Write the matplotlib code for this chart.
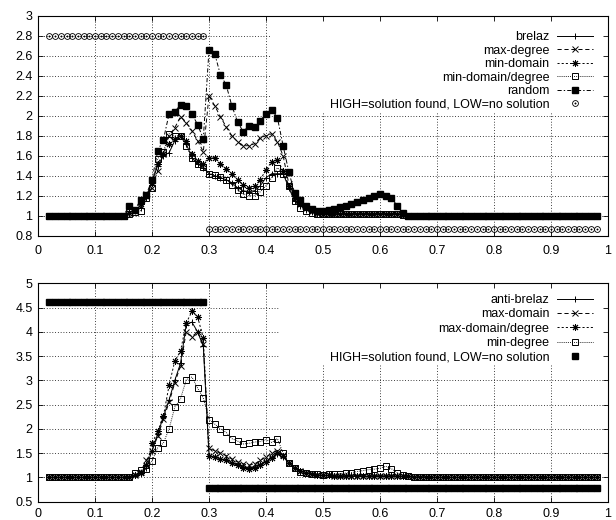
import numpy as np
import matplotlib
matplotlib.use('Agg')
import matplotlib.pyplot as plt
from matplotlib.patches import Rectangle

plt.rcParams['font.family'] = ['Liberation Sans', 'DejaVu Sans']
plt.rcParams['font.size'] = 9
plt.rcParams['lines.scale_dashes'] = False

# x samples 0.02 .. 0.98 step 0.01
x = np.round(np.arange(0.02, 0.985, 0.01), 2)

### top panel
brelaz = [
    1.0, 1.0, 1.0, 1.0, 1.0, 1.0, 1.0, 1.0,
    1.0, 1.0, 1.0, 1.0, 1.0, 1.0, 1.03, 1.05, 1.08, 1.18,
    1.35, 1.50, 1.60, 1.63, 1.75, 1.80, 1.72, 1.58, 1.52, 1.48,
    1.42, 1.40, 1.38, 1.36, 1.33, 1.28, 1.25, 1.24, 1.25, 1.30,
    1.38, 1.42, 1.42, 1.42, 1.28, 1.15, 1.10, 1.06, 1.04, 1.03,
    1.02, 1.02, 1.02, 1.02, 1.02, 1.02, 1.02, 1.02, 1.02, 1.02,
    1.02, 1.02, 1.02, 1.02, 1.01, 1.0, 1.0, 1.0, 1.0, 1.0,
    1.0, 1.0, 1.0, 1.0, 1.0, 1.0, 1.0, 1.0, 1.0, 1.0,
    1.0, 1.0, 1.0, 1.0, 1.0, 1.0, 1.0, 1.0, 1.0, 1.0,
    1.0, 1.0, 1.0, 1.0, 1.0, 1.0, 1.0, 1.0, 1.0]
max_degree = [
    1.0, 1.0, 1.0, 1.0, 1.0, 1.0, 1.0, 1.0,
    1.0, 1.0, 1.0, 1.0, 1.0, 1.0, 1.03, 1.05, 1.10, 1.22,
    1.28, 1.45, 1.62, 1.80, 1.88, 1.99, 1.93, 1.85, 1.75, 1.64,
    2.20, 2.10, 1.99, 1.89, 1.80, 1.74, 1.70, 1.70, 1.72, 1.78,
    1.80, 1.82, 1.74, 1.60, 1.32, 1.20, 1.12, 1.08, 1.05, 1.03,
    1.02, 1.02, 1.02, 1.02, 1.02, 1.02, 1.02, 1.02, 1.02, 1.02,
    1.02, 1.02, 1.02, 1.02, 1.01, 1.0, 1.0, 1.0, 1.0, 1.0,
    1.0, 1.0, 1.0, 1.0, 1.0, 1.0, 1.0, 1.0, 1.0, 1.0,
    1.0, 1.0, 1.0, 1.0, 1.0, 1.0, 1.0, 1.0, 1.0, 1.0,
    1.0, 1.0, 1.0, 1.0, 1.0, 1.0, 1.0, 1.0, 1.0]
min_domain = [
    1.0, 1.0, 1.0, 1.0, 1.0, 1.0, 1.0, 1.0,
    1.0, 1.0, 1.0, 1.0, 1.0, 1.0, 1.03, 1.06, 1.12, 1.20,
    1.33, 1.52, 1.62, 1.72, 1.77, 1.80, 1.75, 1.62, 1.55, 1.52,
    1.58, 1.58, 1.52, 1.47, 1.42, 1.36, 1.31, 1.28, 1.30, 1.36,
    1.46, 1.54, 1.56, 1.45, 1.30, 1.18, 1.12, 1.08, 1.05, 1.03,
    1.02, 1.02, 1.02, 1.02, 1.02, 1.02, 1.02, 1.02, 1.02, 1.02,
    1.02, 1.02, 1.02, 1.02, 1.01, 1.0, 1.0, 1.0, 1.0, 1.0,
    1.0, 1.0, 1.0, 1.0, 1.0, 1.0, 1.0, 1.0, 1.0, 1.0,
    1.0, 1.0, 1.0, 1.0, 1.0, 1.0, 1.0, 1.0, 1.0, 1.0,
    1.0, 1.0, 1.0, 1.0, 1.0, 1.0, 1.0, 1.0, 1.0]
min_domain_degree = [
    1.0, 1.0, 1.0, 1.0, 1.0, 1.0, 1.0, 1.0,
    1.0, 1.0, 1.0, 1.0, 1.0, 1.0, 1.02, 1.04, 1.05, 1.18,
    1.28, 1.57, 1.64, 1.82, 1.80, 1.80, 1.70, 1.58, 1.52, 1.49,
    1.42, 1.41, 1.39, 1.36, 1.31, 1.26, 1.22, 1.20, 1.20, 1.24,
    1.30, 1.38, 1.48, 1.42, 1.30, 1.15, 1.08, 1.05, 1.03, 1.02,
    1.02, 1.02, 1.02, 1.02, 1.02, 1.02, 1.02, 1.02, 1.02, 1.02,
    1.02, 1.02, 1.02, 1.02, 1.01, 1.0, 1.0, 1.0, 1.0, 1.0,
    1.0, 1.0, 1.0, 1.0, 1.0, 1.0, 1.0, 1.0, 1.0, 1.0,
    1.0, 1.0, 1.0, 1.0, 1.0, 1.0, 1.0, 1.0, 1.0, 1.0,
    1.0, 1.0, 1.0, 1.0, 1.0, 1.0, 1.0, 1.0, 1.0]
random_order = [
    1.0, 1.0, 1.0, 1.0, 1.0, 1.0, 1.0, 1.0,
    1.0, 1.0, 1.0, 1.0, 1.0, 1.0, 1.10, 1.06, 1.16, 1.21,
    1.36, 1.65, 1.76, 2.02, 2.04, 2.11, 2.10, 2.02, 1.91, 1.77,
    2.66, 2.62, 2.41, 2.31, 2.10, 1.94, 1.84, 1.90, 1.89, 1.95,
    2.02, 2.06, 1.98, 1.70, 1.44, 1.23, 1.16, 1.10, 1.07, 1.05,
    1.05, 1.06, 1.07, 1.09, 1.10, 1.12, 1.14, 1.16, 1.18, 1.20,
    1.22, 1.20, 1.18, 1.10, 1.03, 1.0, 1.0, 1.0, 1.0, 1.0,
    1.0, 1.0, 1.0, 1.0, 1.0, 1.0, 1.0, 1.0, 1.0, 1.0,
    1.0, 1.0, 1.0, 1.0, 1.0, 1.0, 1.0, 1.0, 1.0, 1.0,
    1.0, 1.0, 1.0, 1.0, 1.0, 1.0, 1.0, 1.0, 1.0]
top_high, top_low = 2.8, 0.87

### bottom panel
anti_brelaz = [
    1.0, 1.0, 1.0, 1.0, 1.0, 1.0, 1.0, 1.0,
    1.0, 1.0, 1.0, 1.0, 1.0, 1.0, 1.0, 1.04, 1.10, 1.20,
    1.55, 1.90, 2.25, 2.60, 3.00, 3.35, 4.15, 4.20, 4.00, 3.70,
    1.45, 1.42, 1.38, 1.35, 1.30, 1.26, 1.22, 1.20, 1.22, 1.27,
    1.33, 1.42, 1.48, 1.42, 1.30, 1.20, 1.13, 1.10, 1.07, 1.05,
    1.04, 1.04, 1.03, 1.03, 1.03, 1.03, 1.03, 1.03, 1.03, 1.03,
    1.03, 1.03, 1.03, 1.03, 1.02, 1.02, 1.01, 1.01, 1.01, 1.0,
    1.0, 1.0, 1.0, 1.0, 1.0, 1.0, 1.0, 1.0, 1.0, 1.0,
    1.0, 1.0, 1.0, 1.0, 1.0, 1.0, 1.0, 1.0, 1.0, 1.0,
    1.0, 1.0, 1.0, 1.0, 1.0, 1.0, 1.0, 1.0, 1.0]
max_domain = [
    1.0, 1.0, 1.0, 1.0, 1.0, 1.0, 1.0, 1.0,
    1.0, 1.0, 1.0, 1.0, 1.0, 1.0, 1.0, 1.05, 1.12, 1.35,
    1.55, 1.85, 2.20, 2.55, 2.95, 3.30, 4.00, 3.90, 4.00, 3.75,
    1.60, 1.55, 1.50, 1.45, 1.38, 1.32, 1.28, 1.25, 1.28, 1.35,
    1.42, 1.50, 1.55, 1.47, 1.30, 1.20, 1.13, 1.10, 1.07, 1.05,
    1.04, 1.04, 1.03, 1.03, 1.03, 1.03, 1.03, 1.03, 1.03, 1.03,
    1.03, 1.03, 1.03, 1.03, 1.02, 1.02, 1.01, 1.01, 1.01, 1.0,
    1.0, 1.0, 1.0, 1.0, 1.0, 1.0, 1.0, 1.0, 1.0, 1.0,
    1.0, 1.0, 1.0, 1.0, 1.0, 1.0, 1.0, 1.0, 1.0, 1.0,
    1.0, 1.0, 1.0, 1.0, 1.0, 1.0, 1.0, 1.0, 1.0]
max_domain_degree = [
    1.0, 1.0, 1.0, 1.0, 1.0, 1.0, 1.0, 1.0,
    1.0, 1.0, 1.0, 1.0, 1.0, 1.0, 1.0, 1.04, 1.10, 1.25,
    1.70, 1.95, 2.26, 2.90, 3.40, 3.60, 4.18, 4.42, 4.31, 3.87,
    1.45, 1.42, 1.38, 1.35, 1.30, 1.25, 1.20, 1.18, 1.20, 1.25,
    1.32, 1.40, 1.50, 1.45, 1.30, 1.20, 1.13, 1.10, 1.07, 1.05,
    1.04, 1.04, 1.03, 1.03, 1.03, 1.03, 1.03, 1.03, 1.03, 1.03,
    1.03, 1.03, 1.03, 1.03, 1.02, 1.02, 1.01, 1.01, 1.01, 1.0,
    1.0, 1.0, 1.0, 1.0, 1.0, 1.0, 1.0, 1.0, 1.0, 1.0,
    1.0, 1.0, 1.0, 1.0, 1.0, 1.0, 1.0, 1.0, 1.0, 1.0,
    1.0, 1.0, 1.0, 1.0, 1.0, 1.0, 1.0, 1.0, 1.0]
min_degree = [
    1.0, 1.0, 1.0, 1.0, 1.0, 1.0, 1.0, 1.0,
    1.0, 1.0, 1.0, 1.0, 1.0, 1.0, 1.0, 1.10, 1.15, 1.17,
    1.34, 1.61, 1.71, 2.00, 2.45, 2.62, 3.01, 3.07, 2.84, 2.64,
    2.19, 2.10, 2.00, 1.93, 1.80, 1.75, 1.69, 1.70, 1.73, 1.74,
    1.78, 1.72, 1.80, 1.50, 1.30, 1.20, 1.12, 1.10, 1.08, 1.07,
    1.06, 1.07, 1.07, 1.08, 1.09, 1.10, 1.12, 1.14, 1.16, 1.17,
    1.19, 1.23, 1.18, 1.10, 1.05, 1.02, 1.01, 1.0, 1.0, 1.0,
    1.0, 1.0, 1.0, 1.0, 1.0, 1.0, 1.0, 1.0, 1.0, 1.0,
    1.0, 1.0, 1.0, 1.0, 1.0, 1.0, 1.0, 1.0, 1.0, 1.0,
    1.0, 1.0, 1.0, 1.0, 1.0, 1.0, 1.0, 1.0, 1.0]
bot_high, bot_low = 4.62, 0.79

last_solved = 0.29  # HIGH up to here, LOW after

xticks = [0, 0.1, 0.2, 0.3, 0.4, 0.5, 0.6, 0.7, 0.8, 0.9, 1]
xlabels = ['0', '0.1', '0.2', '0.3', '0.4', '0.5', '0.6', '0.7', '0.8', '0.9', '1']
top_yticks = [0.8, 1, 1.2, 1.4, 1.6, 1.8, 2, 2.2, 2.4, 2.6, 2.8, 3]
top_ylabels = ['0.8', '1', '1.2', '1.4', '1.6', '1.8', '2', '2.2', '2.4', '2.6', '2.8', '3']
bot_yticks = [0.5, 1, 1.5, 2, 2.5, 3, 3.5, 4, 4.5, 5]
bot_ylabels = ['0.5', '1', '1.5', '2', '2.5', '3', '3.5', '4', '4.5', '5']

DASH = (0, (3, 2))
DOT = (0, (1.5, 1.5))
FINE = (0, (0.6, 0.9))
DASHDOT = (0, (3, 1.5, 1, 1.5))
ASTER = (8, 2, 0)
LW = 0.7


def setup_axes(ax, yticks, ylabels, ylim, hide_box, xpad):
    ax.set_xlim(0, 1)
    ax.set_ylim(*ylim)
    ax.set_xticks(xticks)
    ax.set_xticklabels(xlabels)
    ax.set_yticks(yticks)
    ax.set_yticklabels(ylabels)
    ax.tick_params(direction='in', top=True, right=True, length=3.5, width=0.6)
    ax.tick_params(axis='x', pad=xpad)
    ax.tick_params(axis='y', pad=4)
    # dotted grid, drawn by hand so the legend patch can hide it
    for v in xticks[1:-1]:
        ax.axvline(v, ls=(0, (0.6, 1.4)), lw=0.6, color='k', zorder=0.5)
    for v in yticks[1:-1]:
        ax.axhline(v, ls=(0, (0.6, 1.4)), lw=0.6, color='k', zorder=0.5)
    ax.add_patch(Rectangle(hide_box[:2], hide_box[2], hide_box[3], transform=ax.transAxes,
                           fc='white', ec='none', zorder=1))
    for s in ax.spines.values():
        s.set_linewidth(0.8)


fig = plt.figure(figsize=(6.16, 5.2), dpi=100)

axT = fig.add_axes([0.0617, 0.5467, 0.9253, 0.4231])
setup_axes(axT, top_yticks, top_ylabels, (0.8, 3), (0.409, 0.56, 0.591, 0.44), 7)
h1, = axT.plot(x, brelaz, color='k', lw=LW, ls='-', marker='+', ms=5, mew=0.7)
h2, = axT.plot(x, max_degree, color='k', lw=LW, ls=DASH, marker='x', ms=4.5, mew=0.7)
h3, = axT.plot(x, min_domain, color='k', lw=LW, ls=DOT, marker=ASTER, ms=5, mew=0.7)
h4, = axT.plot(x, min_domain_degree, color='k', lw=LW, ls=FINE, marker='s', ms=4.8, mfc='none', mew=0.7)
h5, = axT.plot(x, random_order, color='k', lw=LW, ls=DASHDOT, marker='s', ms=4.8)
top_sol = np.where(x <= last_solved, top_high, top_low)
h6a, = axT.plot(x, top_sol, ls='none', marker='o', ms=4.2, mfc='none', mec='k', mew=0.6)
h6b, = axT.plot(x, top_sol, ls='none', marker='o', ms=1.0, mfc='k', mec='k', mew=0.3)
axT.legend([h1, h2, h3, h4, h5, (h6a, h6b)],
           ['brelaz', 'max-degree', 'min-domain', 'min-domain/degree', 'random',
            'HIGH=solution found, LOW=no solution'],
           loc='upper right', bbox_to_anchor=(0.974, 0.93), frameon=False,
           markerfirst=False, numpoints=1, handlelength=2.9, handletextpad=0.6,
           labelspacing=0.12, borderpad=0, borderaxespad=0, fontsize=9)

axB = fig.add_axes([0.0617, 0.0352, 0.9253, 0.42])
setup_axes(axB, bot_yticks, bot_ylabels, (0.5, 5), (0.425, 0.626, 0.575, 0.374), 4.5)
g1, = axB.plot(x, anti_brelaz, color='k', lw=LW, ls='-', marker='+', ms=5, mew=0.7)
g2, = axB.plot(x, max_domain, color='k', lw=LW, ls=DASH, marker='x', ms=4.5, mew=0.7)
g3, = axB.plot(x, max_domain_degree, color='k', lw=LW, ls=DOT, marker=ASTER, ms=5, mew=0.7)
g4, = axB.plot(x, min_degree, color='k', lw=LW, ls=FINE, marker='s', ms=4.8, mfc='none', mew=0.7)
bot_sol = np.where(x <= last_solved, bot_high, bot_low)
g5, = axB.plot(x, bot_sol, ls='none', marker='s', ms=4.8, color='k')
axB.legend([g1, g2, g3, g4, g5],
           ['anti-brelaz', 'max-domain', 'max-domain/degree', 'min-degree',
            'HIGH=solution found, LOW=no solution'],
           loc='upper right', bbox_to_anchor=(0.974, 0.95), frameon=False,
           markerfirst=False, numpoints=1, handlelength=2.9, handletextpad=0.6,
           labelspacing=0.18, borderpad=0, borderaxespad=0, fontsize=9)

fig.savefig('out.png', dpi=100)
